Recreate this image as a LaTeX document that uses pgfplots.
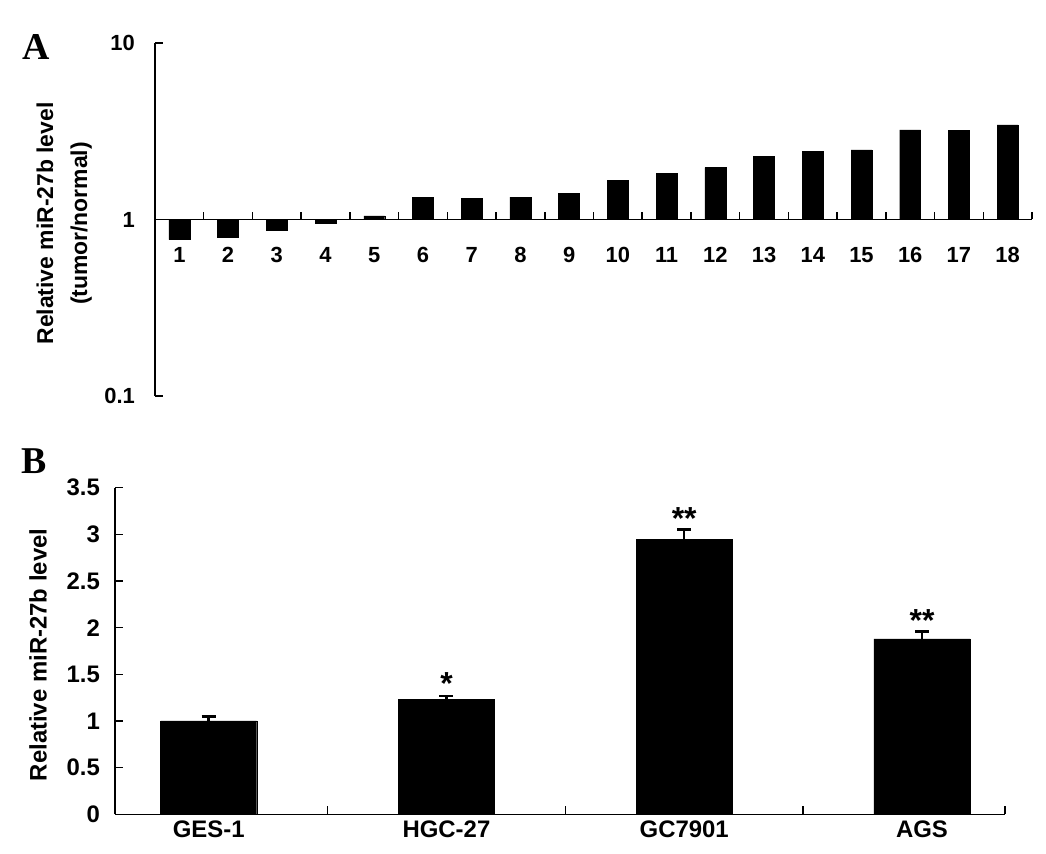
\documentclass[border=0pt]{standalone}
\usepackage{fontspec}
\setmainfont{Liberation Sans}
\newfontfamily\panelfont{Liberation Serif}
\usepackage{pgfplots}
\usepackage{pgfplotstable}
\pgfplotsset{compat=1.18}

% panel A: tumour/normal ratio for 18 patients
\pgfplotstableread{
x y
1 0.77
2 0.79
3 0.87
4 0.95
5 1.05
6 1.33
7 1.32
8 1.34
9 1.41
10 1.67
11 1.82
12 1.97
13 2.28
14 2.43
15 2.48
16 3.22
17 3.21
18 3.44
}\tumordata

% panel B: cell lines
\pgfplotstableread{
x y err
0 1.00 0.05
1 1.23 0.04
2 2.95 0.10
3 1.88 0.08
}\celldata

\begin{document}
\begin{tikzpicture}
\path[use as bounding box] (0,0) rectangle (1046bp,854bp);

\pgfplotsset{
  common/.style={
    scale only axis, anchor=south west,
    axis line style={-, line width=1.5bp},
    tick style={black, line width=1.5bp},
    tick align=inside,
    major tick length=8bp, minor tick length=8bp,
    major x tick style={draw=none},
    /pgf/number format/assume math mode=true,
    yticklabel style={anchor=east, inner sep=0pt},
    xticklabel style={anchor=north, inner sep=0pt},
  }
}

\begin{axis}[common,
  at={(155bp,458bp)}, width=877bp, height=353bp,
  ymode=log, ymin=0.1, ymax=10, xmin=0.5, xmax=18.5,
  axis y line*=left, axis x line*=middle,
  xtick={1,...,18}, minor xtick={1.5,2.5,...,18.5},
  ytick={0.1,1,10}, yticklabels={0.1,1,10}, yminorticks=false,
  tick label style={font=\fontsize{22}{26}\selectfont\bfseries},
  yticklabel style={xshift=-20bp},
  xticklabel style={yshift=-28bp},
  ylabel={Relative miR-27b level\\(tumor/normal)},
  ylabel style={align=center, at={(axis description cs:-0.0718,0.4887)},
    anchor=south, inner sep=0pt, font=\fontsize{23}{34}\selectfont\bfseries},
]
\addplot[ybar, bar width=0.43, fill=black, draw=black] table[x=x,y=y] {\tumordata};
\end{axis}

\begin{axis}[common,
  at={(115bp,39.7bp)}, width=890bp, height=326.6bp,
  xmin=-0.394, xmax=3.349, ymin=0, ymax=3.5,
  axis lines*=left,
  xtick={0,1,2,3}, xticklabels={GES-1,HGC-27,GC7901,AGS},
  minor xtick={0.5,1.5,2.5,3.349},
  ytick={0,0.5,...,3.5}, yticklabels={0,0.5,1,1.5,2,2.5,3,3.5},
  tick label style={font=\fontsize{24}{28}\selectfont\bfseries},
  yticklabel style={xshift=-15bp},
  xticklabel style={yshift=-6bp},
  ylabel={Relative miR-27b level},
  ylabel style={at={(axis description cs:-0.0764,0.488)},
    anchor=south, inner sep=0pt, font=\fontsize{24}{28}\selectfont\bfseries},
]
\addplot[ybar, bar width=0.404, fill=black, draw=black,
  error bars/.cd, y dir=plus, y explicit,
  error bar style={line width=2.5bp},
  error mark options={rotate=90, mark size=7bp, line width=2.5bp}]
  table[x=x,y=y,y error=err] {\celldata};
\node[anchor=base, yshift=1bp, font=\fontsize{32}{36}\selectfont\bfseries] at (axis cs:1,1.27) {*};
\node[anchor=base, yshift=0bp, font=\fontsize{32}{36}\selectfont\bfseries] at (axis cs:2,3.05) {**};
\node[anchor=base, yshift=0bp, font=\fontsize{32}{36}\selectfont\bfseries] at (axis cs:3,1.96) {**};
\end{axis}

\node[font=\fontsize{38}{40}\selectfont\panelfont\bfseries] at (36bp,807bp) {A};
\node[font=\fontsize{38}{40}\selectfont\panelfont\bfseries] at (34bp,393bp) {B};
\end{tikzpicture}
\end{document}
